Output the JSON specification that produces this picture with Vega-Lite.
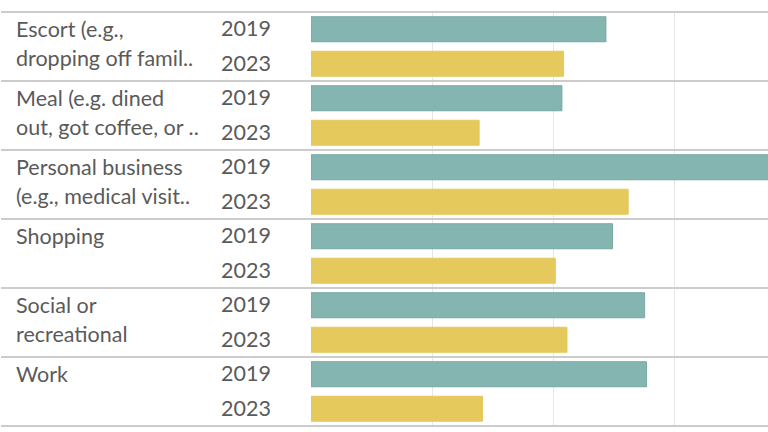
{
  "$schema": "https://vega.github.io/schema/vega-lite/v6.json",
  "padding": {"left": 0, "top": 11, "right": 0, "bottom": 7},
  "background": "white",
  "bounds": "flush",
  "config": {
    "view": {"stroke": null},
    "concat": {"spacing": 0},
    "font": "Lato"
  },
  "data": {
    "values": [
      {"category": "Escort (e.g.,\ndropping off famil..", "year": "2019", "value": 12.19},
      {"category": "Escort (e.g.,\ndropping off famil..", "year": "2023", "value": 10.44},
      {"category": "Meal (e.g. dined\nout, got coffee, or ..", "year": "2019", "value": 10.37},
      {"category": "Meal (e.g. dined\nout, got coffee, or ..", "year": "2023", "value": 6.95},
      {"category": "Personal business\n(e.g., medical visit..", "year": "2019", "value": 20.5},
      {"category": "Personal business\n(e.g., medical visit..", "year": "2023", "value": 13.11},
      {"category": "Shopping", "year": "2019", "value": 12.46},
      {"category": "Shopping", "year": "2023", "value": 10.1},
      {"category": "Social or\nrecreational", "year": "2019", "value": 13.79},
      {"category": "Social or\nrecreational", "year": "2023", "value": 10.58},
      {"category": "Work", "year": "2019", "value": 13.87},
      {"category": "Work", "year": "2023", "value": 7.09}
    ]
  },
  "hconcat": [
    {
      "width": 210,
      "height": 414,
      "encoding": {
        "y": {"field": "category", "type": "nominal", "sort": null, "scale": {"paddingInner": 0, "paddingOuter": 0}, "axis": null}
      },
      "layer": [
        {
          "transform": [{"filter": "datum.year == '2019'"}],
          "mark": {"type": "rule", "color": "#cccccc", "strokeWidth": 2},
          "encoding": {"y": {"field": "category", "type": "nominal", "sort": null, "bandPosition": 0}}
        },
        {
          "transform": [{"filter": "datum.year == '2019' && datum.category == 'Work'"}],
          "mark": {"type": "rule", "color": "#cccccc", "strokeWidth": 2},
          "encoding": {"y": {"field": "category", "type": "nominal", "sort": null, "bandPosition": 1}}
        },
        {
          "transform": [{"filter": "datum.year == '2019'"}],
          "mark": {"type": "text", "align": "left", "baseline": "alphabetic", "fontSize": 21.5, "lineBreak": "\n", "lineHeight": 29, "color": "#5a5a5a", "dx": 15, "dy": 8},
          "encoding": {
            "x": {"value": 0},
            "yOffset": {"field": "year", "type": "nominal", "scale": {"domain": ["2019", "2023"], "paddingInner": 0.275, "paddingOuter": 0.1375}},
            "text": {"field": "category"}
          }
        }
      ]
    },
    {
      "width": 100,
      "height": 414,
      "encoding": {
        "y": {"field": "category", "type": "nominal", "sort": null, "scale": {"paddingInner": 0, "paddingOuter": 0}, "axis": null}
      },
      "layer": [
        {
          "transform": [{"filter": "datum.year == '2019'"}],
          "mark": {"type": "rule", "color": "#cccccc", "strokeWidth": 2},
          "encoding": {"y": {"field": "category", "type": "nominal", "sort": null, "bandPosition": 0}}
        },
        {
          "transform": [{"filter": "datum.year == '2019' && datum.category == 'Work'"}],
          "mark": {"type": "rule", "color": "#cccccc", "strokeWidth": 2},
          "encoding": {"y": {"field": "category", "type": "nominal", "sort": null, "bandPosition": 1}}
        },
        {
          "mark": {"type": "text", "align": "left", "baseline": "middle", "fontSize": 21.5, "color": "#5a5a5a", "dx": 10, "dy": 1},
          "encoding": {
            "x": {"value": 0},
            "yOffset": {"field": "year", "type": "nominal", "scale": {"domain": ["2019", "2023"], "paddingInner": 0.275, "paddingOuter": 0.1375}},
            "text": {"field": "year"}
          }
        }
      ]
    },
    {
      "width": 458,
      "height": 414,
      "encoding": {
        "y": {"field": "category", "type": "nominal", "sort": null, "scale": {"paddingInner": 0, "paddingOuter": 0}, "axis": null}
      },
      "layer": [
        {
          "mark": {"type": "bar", "clip": true, "strokeWidth": 1},
          "encoding": {
            "x": {"field": "value", "type": "quantitative", "scale": {"domain": [0, 18.93], "nice": false, "zero": true},
              "axis": {"values": [5, 10, 15], "grid": true, "gridColor": "#e6e6e6", "gridWidth": 1, "labels": false, "ticks": false, "domain": false, "title": null}},
            "yOffset": {"field": "year", "type": "nominal", "scale": {"domain": ["2019", "2023"], "paddingInner": 0.275, "paddingOuter": 0.1375}},
            "color": {"field": "year", "type": "nominal", "scale": {"domain": ["2019", "2023"], "range": ["#85b5b0", "#e5c95c"]}, "legend": null},
            "stroke": {"field": "year", "type": "nominal", "scale": {"domain": ["2019", "2023"], "range": ["#76a9a3", "#e5c95c"]}, "legend": null}
          }
        },
        {
          "transform": [{"filter": "datum.year == '2019'"}],
          "mark": {"type": "rule", "color": "#cccccc", "strokeWidth": 2},
          "encoding": {"y": {"field": "category", "type": "nominal", "sort": null, "bandPosition": 0}}
        },
        {
          "transform": [{"filter": "datum.year == '2019' && datum.category == 'Work'"}],
          "mark": {"type": "rule", "color": "#cccccc", "strokeWidth": 2},
          "encoding": {"y": {"field": "category", "type": "nominal", "sort": null, "bandPosition": 1}}
        },
        {
          "mark": {"type": "rule", "color": "#cccccc", "strokeWidth": 2},
          "encoding": {"x": {"datum": 0}}
        }
      ]
    }
  ]
}
